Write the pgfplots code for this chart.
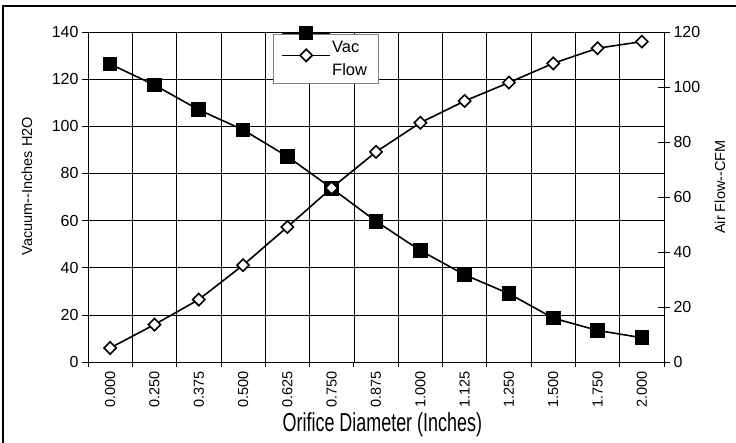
\documentclass[border=0pt]{standalone}
\usepackage{pgfplots}
\pgfplotsset{compat=1.18}
\usepackage{pgfplotstable}
\usepackage{fontspec}
\setmainfont{Liberation Sans}

\pgfplotstableread{
x vac flow
0 126.4 5.1
1 117.5 13.6
2 107.0 22.7
3 98.5 35.2
4 87.2 49.1
5 73.7 63.3
6 59.7 76.4
7 47.3 87.0
8 37.0 94.9
9 29.0 101.6
10 18.6 108.6
11 13.4 114.1
12 10.3 116.5
}\datatable

\newcommand{\tf}{\fontsize{14.5}{17}\selectfont}
\newcommand{\yf}{\fontsize{16}{19}\selectfont}
\newcommand{\lf}{\fontsize{16.5}{19}\selectfont}

\begin{document}
\begin{tikzpicture}
\useasboundingbox (0pt,0pt) rectangle (736pt,443pt);
\draw[line width=1.5pt] (3pt,0pt) -- (3pt,437pt) -- (736pt,437pt);
\begin{axis}[
  at={(88pt,81pt)}, anchor=south west,
  scale only axis, width=576pt, height=330pt,
  xmin=-0.5, xmax=12.5, ymin=0, ymax=140,
  axis line style={line width=0.8pt},
  xtick={0,...,12},
  xticklabels={0.000,0.250,0.375,0.500,0.625,0.750,0.875,1.000,1.125,1.250,1.500,1.750,2.000},
  major x tick style={draw=none},
  minor xtick={-0.5,0.5,...,12.5},
  xminorgrids,
  xtick pos=bottom, ytick pos=left,
  ytick={0,20,...,140},
  ymajorgrids,
  tick align=outside,
  major tick length=6pt, minor tick length=5pt,
  tick style={black, line width=0.7pt},
  grid style={black, line width=0.6pt},
  minor grid style={black, line width=0.6pt},
  /pgf/number format/assume math mode=true,
  yticklabel style={font=\yf},
  xticklabel style={font=\tf, rotate=90, anchor=east},
  ylabel={Vacuum-{}-Inches H2O},
  ylabel style={font=\tf, at={(axis description cs:-0.106,0.533)}, anchor=center},
  xlabel={\scalebox{0.69}[1]{\fontsize{26}{28}\selectfont Orifice Diameter (Inches)}},
  xlabel style={at={(axis description cs:0.511,-0.191)}, anchor=center},
]
\addplot[black, line width=1.6pt, mark=square*, mark size=6.5pt, mark options={solid, fill=black}] table[x=x, y=vac] {\datatable};
\end{axis}
\begin{axis}[
  at={(88pt,81pt)}, anchor=south west,
  scale only axis, width=576pt, height=330pt,
  xmin=-0.5, xmax=12.5, ymin=0, ymax=120,
  axis x line=none, axis y line*=right,
  axis line style={line width=0.8pt},
  ytick={0,20,...,120},
  tick align=center, major tick length=12pt,
  tick style={black, line width=0.7pt},
  /pgf/number format/assume math mode=true,
  yticklabel style={font=\yf},
  ylabel={Air Flow-{}-CFM},
  ylabel style={font=\tf, at={(axis description cs:1.097,0.53)}, anchor=center},
  legend style={at={(axis description cs:0.321,0.994)}, anchor=north west,
    draw=gray, line width=0.6pt, font=\lf, inner xsep=9pt, inner ysep=5pt,
    row sep=5pt, cells={anchor=west}},
  legend image code/.code={%
    \path[draw=none, fill=none] (0pt,-3pt) rectangle (48pt,3pt);
    \draw[overlay, mark repeat=2, mark phase=2, #1, line width=1.6pt] plot coordinates {(0pt,14.5pt) (24pt,14.5pt) (48pt,14.5pt)};},
]
\addlegendimage{black, line width=1.6pt, mark=square*, mark size=6.5pt, mark options={solid, fill=black}}
\addlegendentry{Vac}
\addplot[black, line width=1.6pt, mark=square*, mark size=4.3pt, mark options={solid, fill=white, rotate=45}] table[x=x, y=flow] {\datatable};
\addlegendentry{Flow}
\end{axis}
\end{tikzpicture}
\end{document}
